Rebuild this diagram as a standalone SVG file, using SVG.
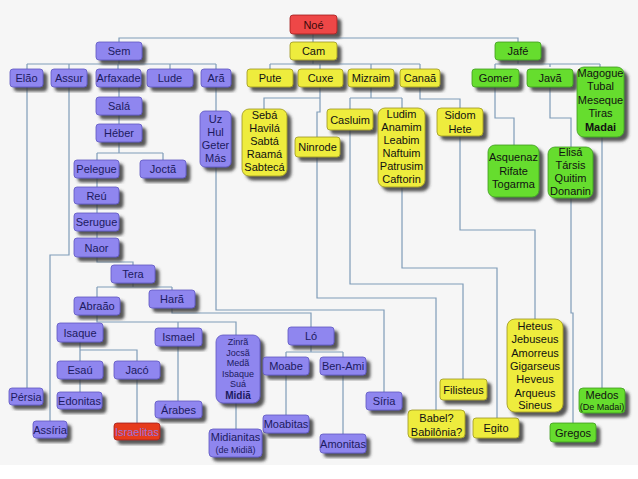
<svg xmlns="http://www.w3.org/2000/svg" width="638" height="479" viewBox="0 0 638 479">
<defs>
<filter id="sh" x="-20%" y="-20%" width="150%" height="150%">
<feDropShadow dx="4" dy="4" stdDeviation="1.4" flood-color="#3a3a3a" flood-opacity="0.85"/>
</filter>
<style>
rect.n{filter:url(#sh);stroke-width:0.8}
.p rect{fill:#8f86ef;stroke:#5d55c0}
.y rect{fill:#eeec3c;stroke:#9a9520}
.g rect{fill:#66dd2e;stroke:#3f9a20}
.r rect{fill:#ee4646;stroke:#a02020}
text{font-family:"Liberation Sans",Arial,sans-serif;font-size:11px;text-anchor:middle}
.p text{fill:#1c1a60}
.y text,.g text{fill:#111}
.r text{fill:#3a0a0a}
.s{font-size:9px}
.b{font-weight:bold}
#connectors path{fill:none;stroke:#7f9cb8;stroke-width:1.2}
</style>
</defs>
<rect x="0" y="0" width="638" height="465" fill="#f6f6f6"/>
<rect x="0" y="465" width="638" height="14" fill="#ffffff"/>
<g id="connectors">
<path d="M313 34V42M119 42V38H518V42"/>
<path d="M119 60V64M27 64H216M27 64V69M69 64V69M118 64V69M170 64V69M216 64V69"/>
<path d="M313 60V64M270 64H420M270 64V69M320 64V69M371 64V69M420 64V69"/>
<path d="M518 60V64M495 64H600M495 64V69M550 64V67M600 64V67"/>
<path d="M119 87V97M119 115V124M119 142V153M97 153H163M97 153V160M163 153V160"/>
<path d="M97 178V187M97 204V213M97 231V238M97 257V262H133V265"/>
<path d="M133 283V287M97 287H172M97 287V297M172 287V290"/>
<path d="M97 315V322H236V335M178 322V328"/>
<path d="M80 342V350H137V361M80 350V361M80 379V392M137 379V423M178 346V401M236 403V429"/>
<path d="M172 308V313H311V327M311 345V352M286 352H343M286 352V357M343 352V357M286 375V415M343 375V434"/>
<path d="M216 87V111M216 167V310H384V392"/>
<path d="M27 87V388M69 87V255H50V421"/>
<path d="M320 87V98H264V109M320 98V112H317V137M317 157V298H436V410"/>
<path d="M371 87V98M350 98H402M350 98V109M402 98V108M350 130V284H463V379M402 187V268H497V418"/>
<path d="M420 87V99H460V108M460 136V230H535V319"/>
<path d="M495 87V118H514V145M550 87V118H571V147M571 198V313H573V423M602 137V388"/>
</g>
<g id="noe" class="r"><rect class="n" x="290" y="15" width="47" height="19" rx="3"/><text x="313.5" y="29">Noé</text></g>
<g id="sem" class="p"><rect class="n" x="96" y="42" width="46" height="18" rx="3"/><text x="119" y="55">Sem</text></g>
<g id="cam" class="y"><rect class="n" x="290" y="42" width="47" height="18" rx="3"/><text x="313.5" y="55">Cam</text></g>
<g id="jafe" class="g"><rect class="n" x="495" y="42" width="46" height="18" rx="3"/><text x="518" y="55">Jafé</text></g>
<g id="elao" class="p"><rect class="n" x="10" y="69" width="33" height="18" rx="3"/><text x="26.5" y="82">Elão</text></g>
<g id="assur" class="p"><rect class="n" x="51" y="69" width="36" height="18" rx="3"/><text x="69" y="82">Assur</text></g>
<g id="arfaxade" class="p"><rect class="n" x="96" y="69" width="45" height="18" rx="3"/><text x="118.5" y="82">Arfaxade</text></g>
<g id="lude" class="p"><rect class="n" x="147" y="69" width="46" height="18" rx="3"/><text x="170" y="82">Lude</text></g>
<g id="ara" class="p"><rect class="n" x="201" y="69" width="30" height="18" rx="3"/><text x="216" y="82">Arã</text></g>
<g id="pute" class="y"><rect class="n" x="247" y="69" width="46" height="18" rx="3"/><text x="270" y="82">Pute</text></g>
<g id="cuxe" class="y"><rect class="n" x="298" y="69" width="45" height="18" rx="3"/><text x="320.5" y="82">Cuxe</text></g>
<g id="mizraim" class="y"><rect class="n" x="348" y="69" width="46" height="18" rx="3"/><text x="371" y="82">Mizraim</text></g>
<g id="canaa" class="y"><rect class="n" x="400" y="69" width="40" height="18" rx="3"/><text x="420" y="82">Canaã</text></g>
<g id="gomer" class="g"><rect class="n" x="472" y="69" width="47" height="18" rx="3"/><text x="495.5" y="82">Gomer</text></g>
<g id="java" class="g"><rect class="n" x="527" y="69" width="46" height="18" rx="3"/><text x="550" y="82">Javã</text></g>
<g id="magogue" class="g"><rect class="n" x="577" y="67" width="47" height="70" rx="7"/><text><tspan x="600.5" y="77">Magogue</tspan><tspan x="600.5" y="90">Tubal</tspan><tspan x="600.5" y="104">Meseque</tspan><tspan x="600.5" y="117">Tiras</tspan><tspan x="600.5" y="131" class="b">Madai</tspan></text></g>
<g id="sala" class="p"><rect class="n" x="96" y="97" width="46" height="18" rx="3"/><text x="119" y="110">Salá</text></g>
<g id="heber" class="p"><rect class="n" x="96" y="124" width="46" height="18" rx="3"/><text x="119" y="137">Héber</text></g>
<g id="uz" class="p"><rect class="n" x="200" y="111" width="31" height="56" rx="5"/><text><tspan x="215.5" y="123">Uz</tspan><tspan x="215.5" y="136">Hul</tspan><tspan x="215.5" y="149">Geter</tspan><tspan x="215.5" y="162">Más</tspan></text></g>
<g id="seba" class="y"><rect class="n" x="242" y="109" width="45" height="67" rx="7"/><text><tspan x="264.5" y="119">Sebá</tspan><tspan x="264.5" y="132">Havilá</tspan><tspan x="264.5" y="145">Sabtá</tspan><tspan x="264.5" y="158">Raamá</tspan><tspan x="264.5" y="171">Sabtecá</tspan></text></g>
<g id="ninrode" class="y"><rect class="n" x="295" y="137" width="45" height="20" rx="3"/><text x="317.5" y="151">Ninrode</text></g>
<g id="casluim" class="y"><rect class="n" x="327" y="109" width="46" height="21" rx="3"/><text x="350" y="123.5">Casluim</text></g>
<g id="ludim" class="y"><rect class="n" x="378" y="108" width="47" height="79" rx="7"/><text><tspan x="401.5" y="118">Ludim</tspan><tspan x="401.5" y="131">Anamim</tspan><tspan x="401.5" y="144">Leabim</tspan><tspan x="401.5" y="157">Naftuim</tspan><tspan x="401.5" y="170">Patrusim</tspan><tspan x="401.5" y="183">Caftorin</tspan></text></g>
<g id="sidom" class="y"><rect class="n" x="437" y="108" width="46" height="28" rx="4"/><text><tspan x="460" y="119">Sidom</tspan><tspan x="460" y="133">Hete</tspan></text></g>
<g id="asquenaz" class="g"><rect class="n" x="488" y="145" width="51" height="52" rx="7"/><text><tspan x="513.5" y="161">Asquenaz</tspan><tspan x="513.5" y="175">Rifate</tspan><tspan x="513.5" y="188">Togarma</tspan></text></g>
<g id="elisa" class="g"><rect class="n" x="548" y="147" width="45" height="51" rx="7"/><text><tspan x="570.5" y="156">Elisá</tspan><tspan x="570.5" y="169">Társis</tspan><tspan x="570.5" y="182">Quitim</tspan><tspan x="570.5" y="195">Donanin</tspan></text></g>
<g id="pelegue" class="p"><rect class="n" x="74" y="160" width="45" height="18" rx="3"/><text x="96.5" y="173">Pelegue</text></g>
<g id="jocta" class="p"><rect class="n" x="140" y="160" width="46" height="18" rx="3"/><text x="163" y="173">Joctã</text></g>
<g id="reu" class="p"><rect class="n" x="74" y="187" width="45" height="17" rx="3"/><text x="96.5" y="199.5">Reú</text></g>
<g id="serugue" class="p"><rect class="n" x="74" y="213" width="45" height="18" rx="3"/><text x="96.5" y="226">Serugue</text></g>
<g id="naor" class="p"><rect class="n" x="74" y="238" width="45" height="19" rx="3"/><text x="96.5" y="251.5">Naor</text></g>
<g id="tera" class="p"><rect class="n" x="111" y="265" width="44" height="18" rx="3"/><text x="133" y="278">Tera</text></g>
<g id="abraao" class="p"><rect class="n" x="74" y="297" width="46" height="18" rx="3"/><text x="97" y="310">Abraão</text></g>
<g id="hara" class="p"><rect class="n" x="149" y="290" width="46" height="18" rx="3"/><text x="172" y="303">Harã</text></g>
<g id="isaque" class="p"><rect class="n" x="57" y="323" width="46" height="19" rx="3"/><text x="80" y="336.5">Isaque</text></g>
<g id="ismael" class="p"><rect class="n" x="155" y="328" width="47" height="18" rx="3"/><text x="178.5" y="341">Ismael</text></g>
<g id="zinra" class="p"><rect class="n" x="216" y="335" width="44" height="68" rx="7"/><text class="s"><tspan x="238" y="345">Zinrã</tspan><tspan x="238" y="355.5">Jocsã</tspan><tspan x="238" y="366">Medã</tspan><tspan x="238" y="376.5">Isbaque</tspan><tspan x="238" y="387">Suá</tspan><tspan x="238" y="398.5" class="b" style="font-size:10px">Midiã</tspan></text></g>
<g id="lo" class="p"><rect class="n" x="288" y="327" width="46" height="18" rx="3"/><text x="311" y="340">Ló</text></g>
<g id="esau" class="p"><rect class="n" x="57" y="361" width="46" height="18" rx="3"/><text x="80" y="374">Esaú</text></g>
<g id="jaco" class="p"><rect class="n" x="114" y="361" width="46" height="18" rx="3"/><text x="137" y="374">Jacó</text></g>
<g id="moabe" class="p"><rect class="n" x="263" y="357" width="46" height="18" rx="3"/><text x="286" y="370">Moabe</text></g>
<g id="benami" class="p"><rect class="n" x="320" y="357" width="46" height="18" rx="3"/><text x="343" y="370">Ben-Ami</text></g>
<g id="persia" class="p"><rect class="n" x="9" y="388" width="34" height="17" rx="3"/><text x="26" y="400.5">Pérsia</text></g>
<g id="edonitas" class="p"><rect class="n" x="57" y="392" width="45" height="17" rx="3"/><text x="79.5" y="404.5">Edonitas</text></g>
<g id="arabes" class="p"><rect class="n" x="155" y="401" width="47" height="17" rx="3"/><text x="178.5" y="413.5">Árabes</text></g>
<g id="siria" class="p"><rect class="n" x="366" y="392" width="36" height="18" rx="3"/><text x="384" y="405">Síria</text></g>
<g id="assiria" class="p"><rect class="n" x="33" y="421" width="34" height="17" rx="3"/><text x="50" y="433.5">Assíria</text></g>
<g id="israelitas" class="r"><rect class="n" x="114" y="423" width="46" height="17" rx="3" style="fill:#e63a1e"/><text x="137" y="435.5" style="fill:#9a70d8">Israelitas</text></g>
<g id="moabitas" class="p"><rect class="n" x="263" y="415" width="46" height="18" rx="3"/><text x="286" y="428">Moabitas</text></g>
<g id="amonitas" class="p"><rect class="n" x="320" y="434" width="46" height="19" rx="3"/><text x="343" y="447.5">Amonitas</text></g>
<g id="midianitas" class="p"><rect class="n" x="209" y="429" width="53" height="28" rx="4"/><text><tspan x="235.5" y="441">Midianitas</tspan><tspan x="235.5" y="452.5" class="s">(de Midiã)</tspan></text></g>
<g id="filisteus" class="y"><rect class="n" x="440" y="379" width="47" height="21" rx="3"/><text x="463.5" y="393.5">Filisteus</text></g>
<g id="babel" class="y"><rect class="n" x="408" y="410" width="57" height="28" rx="4"/><text><tspan x="436.5" y="422">Babel?</tspan><tspan x="436.5" y="435.5">Babilônia?</tspan></text></g>
<g id="egito" class="y"><rect class="n" x="473" y="418" width="46" height="20" rx="3"/><text x="496" y="432">Egito</text></g>
<g id="heteus" class="y"><rect class="n" x="507" y="319" width="56" height="93" rx="8"/><text><tspan x="535" y="330">Heteus</tspan><tspan x="535" y="343">Jebuseus</tspan><tspan x="535" y="356.5">Amorreus</tspan><tspan x="535" y="370">Gigarseus</tspan><tspan x="535" y="383">Heveus</tspan><tspan x="535" y="396.5">Arqueus</tspan><tspan x="535" y="409">Sineus</tspan></text></g>
<g id="medos" class="g"><rect class="n" x="579" y="388" width="46" height="25" rx="4"/><text><tspan x="602" y="399">Medos</tspan><tspan x="602" y="410" class="s">(De Madai)</tspan></text></g>
<g id="gregos" class="g"><rect class="n" x="550" y="423" width="46" height="19" rx="3"/><text x="573" y="436.5">Gregos</text></g>
</svg>
